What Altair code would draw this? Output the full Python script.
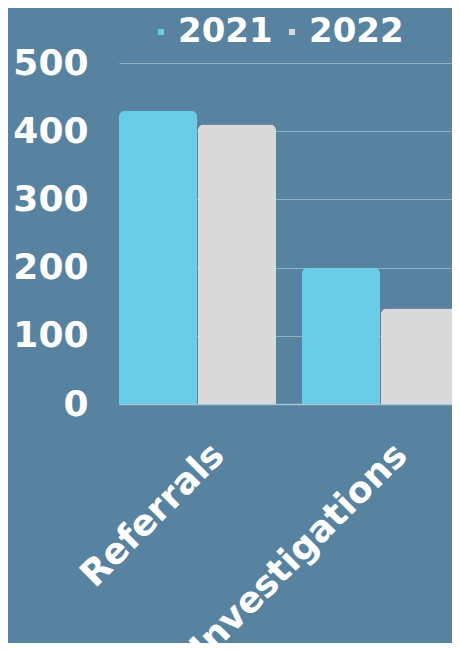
import altair as alt
import pandas as pd

categories = ["Referrals", "Investigations"]
years = ["2021", "2022"]
values_2021 = [430, 200]
values_2022 = [410, 140]
y_ticks = [0, 100, 200, 300, 400, 500]

rows = []
for c, v in zip(categories, values_2021):
    rows.append({"category": c, "year": "2021", "value": v})
for c, v in zip(categories, values_2022):
    rows.append({"category": c, "year": "2022", "value": v})
df = pd.DataFrame(rows)

BG = "#5783A0"
FONT = "DejaVu Sans"

chart = alt.Chart(df).mark_bar(
    cornerRadiusTopLeft=6, cornerRadiusTopRight=6
).encode(
    x=alt.X("category:N", sort=categories, title=None,
            scale=alt.Scale(paddingInner=0.142, paddingOuter=0),
            axis=alt.Axis(labelAngle=-45, labelAlign="right", labelBaseline="middle",
                          labelFontSize=36, labelFont=FONT, labelFontWeight="bold",
                          labelColor="white", ticks=False, tickSize=0,
                          labelPadding=45, labelOffset=21, labelLimit=0,
                          domainColor="#A9C3D4", domainWidth=1.5)),
    xOffset=alt.XOffset("year:N", sort=years, scale=alt.Scale(paddingInner=0.01)),
    y=alt.Y("value:Q", title=None,
            scale=alt.Scale(domain=[0, 500]),
            axis=alt.Axis(values=y_ticks, labelFontSize=36, labelFont=FONT,
                          labelFontWeight="bold", labelColor="white",
                          ticks=False, tickSize=0, domain=False, labelPadding=31,
                          gridColor="#93B0C5", gridWidth=1)),
    color=alt.Color("year:N", sort=years,
                    scale=alt.Scale(domain=years, range=["#69CDE8", "#D9D9D9"]),
                    legend=alt.Legend(title=None, orient="none", legendX=25, legendY=-48,
                                      direction="horizontal", symbolType="square",
                                      symbolSize=36, symbolStrokeWidth=0,
                                      labelFontSize=34, labelFont=FONT,
                                      labelFontWeight="bold", labelColor="white",
                                      labelOffset=0, columnPadding=2, padding=0,
                                      labelLimit=0)),
).properties(
    width=340, height=341,
    autosize=alt.AutoSizeParams(type="none"),
    padding={"left": 111, "top": 55, "right": -7, "bottom": 239},
    background=BG,
).configure_view(stroke=None)

chart.save("out.html", embed_options={"renderer": "svg", "actions": False})
